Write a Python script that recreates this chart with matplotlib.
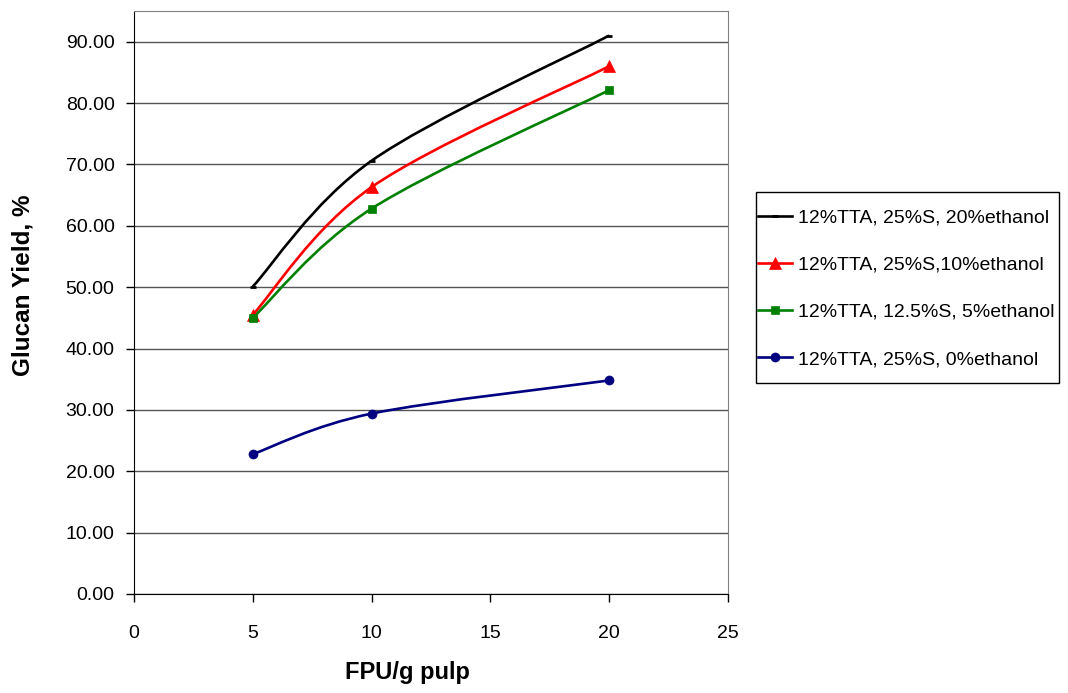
import numpy as np
import matplotlib
matplotlib.use("Agg")
import matplotlib.pyplot as plt
from matplotlib.path import Path
from matplotlib.patches import PathPatch, Rectangle
from matplotlib.lines import Line2D

plt.rcParams['font.family'] = ['Liberation Sans', 'DejaVu Sans']

# ---- data ----
fpu = [5, 10, 20]
labels = ["12%TTA, 25%S, 20%ethanol",
          "12%TTA, 25%S,10%ethanol",
          "12%TTA, 12.5%S, 5%ethanol",
          "12%TTA, 25%S, 0%ethanol"]
yield_20eth = [50.1, 70.6, 91.0]
yield_10eth = [45.5, 66.3, 86.0]
yield_5eth = [45.0, 62.8, 82.1]
yield_0eth = [22.8, 29.4, 34.8]
series = [yield_20eth, yield_10eth, yield_5eth, yield_0eth]
colors = ["#000000", "#FF0000", "#008000", "#000080"]
markers = ["_", "^", "s", "o"]
msizes = [5, 8, 6, 6.5]
xticks = [0, 5, 10, 15, 20, 25]
yticks = [0, 10, 20, 30, 40, 50, 60, 70, 80, 90]


def smooth_path(xs, ys):
    """Excel-style smoothed line as cubic Bezier segments."""
    pts = np.column_stack([xs, ys]).astype(float)
    n = len(pts)
    verts = [pts[0]]
    codes = [Path.MOVETO]
    for i in range(n - 1):
        p0 = pts[i - 1] if i > 0 else pts[i]
        p1 = pts[i]
        p2 = pts[i + 1]
        p3 = pts[i + 2] if i + 2 < n else pts[i + 1]
        c1 = p1 + (p2 - p0) / 6.0
        c2 = p2 - (p3 - p1) / 6.0
        verts += [c1, c2, p2]
        codes += [Path.CURVE4] * 3
    return Path(verts, codes)


W, H = 1068, 693
fig = plt.figure(figsize=(W / 100, H / 100), dpi=100)
ax = fig.add_axes([134 / W, 1 - 594 / H, (728 - 134) / W, (594 - 11) / H])

for ys, c, m, ms in zip(series, colors, markers, msizes):
    patch = PathPatch(smooth_path(fpu, ys), facecolor='none', edgecolor=c,
                      lw=1.9, capstyle='butt', joinstyle='round', zorder=3)
    ax.add_patch(patch)
    ax.plot(fpu, ys, linestyle='none', marker=m, color=c, markersize=ms,
            markeredgewidth=2 if m == "_" else 0.5, zorder=4)

ax.set_xlim(0, 25)
ax.set_ylim(0, 95)
ax.set_xticks(xticks)
ax.set_yticks(yticks)
ax.set_yticklabels([f"{v:.2f}" for v in yticks])
ax.yaxis.grid(True, color='#555555', lw=1.0)
ax.set_axisbelow(True)
ax.tick_params(axis='both', direction='out', length=6, width=1, labelsize=14,
               color='black')
ax.tick_params(axis='x', pad=16)
ax.tick_params(axis='y', pad=8)
for s in ['top', 'right']:
    ax.spines[s].set_color('#808080')
for s in ['left', 'bottom']:
    ax.spines[s].set_color('black')

fig.text(407 / W, 1 - 673 / H, "FPU/g pulp", ha='center', va='center',
         fontsize=17, fontweight='bold')
fig.text(23 / W, 1 - 285 / H, "Glucan Yield, %", ha='center', va='center',
         rotation=90, fontsize=17.5, fontweight='bold')

handles = [Line2D([], [], color=c, lw=1.9, marker=m, markersize=ms,
                  markeredgewidth=2 if m == "_" else 0.5)
           for c, m, ms in zip(colors, markers, msizes)]
leg = fig.legend(handles, labels, loc='center',
                 bbox_to_anchor=(906 / W, 1 - 288.5 / H),
                 fontsize=14, frameon=False,
                 handlelength=1.75, handletextpad=0.3,
                 labelspacing=1.52, borderpad=0, borderaxespad=0)
fig.patches.append(Rectangle((756 / W, 1 - 383 / H), 303 / W, 191 / H,
                             transform=fig.transFigure, fill=False,
                             edgecolor='black', lw=1.0))

fig.savefig("out.png", dpi=100)
